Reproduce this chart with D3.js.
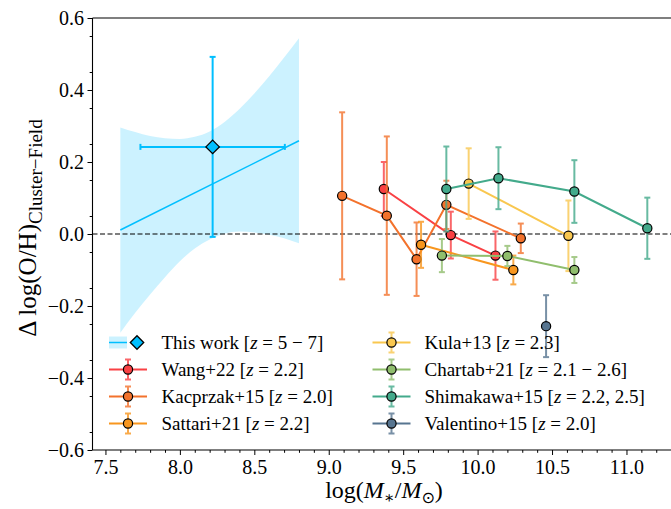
<!DOCTYPE html>
<html>
<head>
<meta charset="utf-8">
<script src="https://cdn.jsdelivr.net/npm/d3@7"></script>
<style>
  html, body { margin: 0; padding: 0; background: #fff; }
  svg text { font-family: "Liberation Serif", "DejaVu Serif", serif; fill: #000; }
</style>
</head>
<body>
<svg id="chart" width="671" height="509"></svg>
<script>
// ---------- data ----------
// this work: fitted relation, its confidence band and the binned point
const bandX     = [7.6, 7.7, 7.8, 7.9, 8.0, 8.1, 8.2, 8.3, 8.4, 8.5, 8.6, 8.7, 8.8];
const bandUpper = [0.296, 0.283, 0.272, 0.266, 0.264, 0.270, 0.285, 0.311, 0.347, 0.390, 0.438, 0.490, 0.544];
const bandLower = [-0.274, -0.219, -0.168, -0.120, -0.076, -0.040, -0.015, 0.001, 0.007, 0.004, -0.002, -0.012, -0.026];
const fitX = [7.6, 8.8];
const fitY = [0.011, 0.259];
const thisWorkX = [8.22];
const thisWorkY = [0.242];
const thisWorkXErr = [0.485];
const thisWorkYErr = [0.25];

// literature comparison samples
const wangX = [9.37, 9.82, 10.12];
const wangY = [0.125, -0.003, -0.060];
const wangErr = [0.075, 0.065, 0.067];

const kacprzakX = [9.09, 9.39, 9.59, 9.79, 10.29];
const kacprzakY = [0.106, 0.051, -0.070, 0.081, -0.012];
const kacprzakErr = [0.232, 0.220, 0.102, 0.067, 0.041];

const sattariX = [9.62, 10.24];
const sattariY = [-0.030, -0.100];
const sattariErr = [0.064, 0.040];

const kulaX = [9.94, 10.61];
const kulaY = [0.140, -0.005];
const kulaErr = [0.098, 0.098];

const chartabX = [9.76, 10.20, 10.65];
const chartabY = [-0.060, -0.061, -0.100];
const chartabErr = [0.046, 0.028, 0.036];

const shimakawaX = [9.79, 10.14, 10.65, 11.14];
const shimakawaY = [0.125, 0.155, 0.118, 0.016];
const shimakawaErr = [0.118, 0.086, 0.087, 0.085];

const valentinoX = [10.46];
const valentinoY = [-0.256];
const valentinoErr = [0.086];

const seriesNames = ["Wang+22", "Kacprzak+15", "Sattari+21", "Kula+13", "Chartab+21", "Shimakawa+15", "Valentino+15"];
const seriesRedshifts = ["2.2", "2.0", "2.2", "2.3", "2.1 − 2.6", "2.2, 2.5", "2.0"];
const seriesColors = ["#f94144", "#f3722c", "#f8961e", "#f9c74f", "#90be6d", "#43aa8b", "#577590"];
const thisWorkLabel = "This work";
const thisWorkRedshift = "5 − 7";
const thisWorkColor = "#00bfff";

const xTicks = [7.5, 8.0, 8.5, 9.0, 9.5, 10.0, 10.5, 11.0];
const yTicks = [-0.6, -0.4, -0.2, 0.0, 0.2, 0.4, 0.6];

const seriesData = [
  [wangX, wangY, wangErr],
  [kacprzakX, kacprzakY, kacprzakErr],
  [sattariX, sattariY, sattariErr],
  [kulaX, kulaY, kulaErr],
  [chartabX, chartabY, chartabErr],
  [shimakawaX, shimakawaY, shimakawaErr],
  [valentinoX, valentinoY, valentinoErr]
].map(([xs, ys, es], i) => ({
  name: seriesNames[i], z: seriesRedshifts[i], color: seriesColors[i],
  points: xs.map((x, j) => ({ x, y: ys[j], e: es[j] }))
}));

// ---------- layout ----------
const W = 671, H = 509;
const plotLeft = 92.5, plotTop = 18, plotBottom = 450;
const svg = d3.select("#chart");
svg.append("rect").attr("width", W).attr("height", H).attr("fill", "#fff");

const x = d3.scaleLinear().domain([7.413, 11.5]).range([plotLeft, 700.9]);
const y = d3.scaleLinear().domain([-0.6, 0.6]).range([plotBottom, plotTop]);

const plot = svg.append("g");

// confidence band of the fit
const band = bandX.map((bx, i) => ({ x: bx, lo: bandLower[i], hi: bandUpper[i] }));
plot.append("path")
  .datum(band)
  .attr("fill", thisWorkColor)
  .attr("fill-opacity", 0.2)
  .attr("d", d3.area().x(d => x(d.x)).y0(d => y(d.lo)).y1(d => y(d.hi)).curve(d3.curveMonotoneX));

// fitted relation
plot.append("path")
  .datum(fitX.map((fx, i) => ({ x: fx, y: fitY[i] })))
  .attr("fill", "none")
  .attr("stroke", thisWorkColor)
  .attr("stroke-width", 1.5)
  .attr("d", d3.line().x(d => x(d.x)).y(d => y(d.y)));

// zero-offset reference line
plot.append("line")
  .attr("x1", plotLeft).attr("x2", W + 10)
  .attr("y1", y(0)).attr("y2", y(0))
  .attr("stroke", "#000").attr("stroke-width", 1.2)
  .attr("stroke-dasharray", "5,2.5");

const CAP = 3;
function vErr(g, cx, v, e, color, width, opacity) {
  const y1 = y(v + e), y2 = y(v - e);
  const eg = g.append("g").attr("stroke", color).attr("stroke-width", width).attr("opacity", opacity);
  eg.append("line").attr("x1", cx).attr("x2", cx).attr("y1", y1).attr("y2", y2);
  eg.append("line").attr("x1", cx - CAP).attr("x2", cx + CAP).attr("y1", y1).attr("y2", y1);
  eg.append("line").attr("x1", cx - CAP).attr("x2", cx + CAP).attr("y1", y2).attr("y2", y2);
}

// literature samples: connecting line, error bars, markers
seriesData.forEach(s => {
  const g = plot.append("g");
  if (s.points.length > 1) {
    g.append("path")
      .datum(s.points)
      .attr("fill", "none")
      .attr("stroke", s.color)
      .attr("stroke-width", 2)
      .attr("d", d3.line().x(d => x(d.x)).y(d => y(d.y)));
  }
  s.points.forEach(p => vErr(g, x(p.x), p.y, p.e, s.color, 2, 0.8));
  g.selectAll("circle").data(s.points).join("circle")
    .attr("cx", d => x(d.x)).attr("cy", d => y(d.y)).attr("r", 4.6)
    .attr("fill", s.color).attr("stroke", "#000").attr("stroke-width", 1.2);
});

// this work: binned point with x and y errors
const diamond = d3.symbol().type(d3.symbolDiamond2).size(115)();
thisWorkX.forEach((tx, i) => {
  const g = plot.append("g");
  const cx = x(tx), cy = y(thisWorkY[i]);
  vErr(g, cx, thisWorkY[i], thisWorkYErr[i], thisWorkColor, 2, 1);
  const xl = x(tx - thisWorkXErr[i]), xr = x(tx + thisWorkXErr[i]);
  const hg = g.append("g").attr("stroke", thisWorkColor).attr("stroke-width", 2);
  hg.append("line").attr("x1", xl).attr("x2", xr).attr("y1", cy).attr("y2", cy);
  hg.append("line").attr("x1", xl).attr("x2", xl).attr("y1", cy - CAP).attr("y2", cy + CAP);
  hg.append("line").attr("x1", xr).attr("x2", xr).attr("y1", cy - CAP).attr("y2", cy + CAP);
  g.append("path")
    .attr("d", diamond)
    .attr("transform", `translate(${cx},${cy})`)
    .attr("fill", thisWorkColor).attr("stroke", "#000").attr("stroke-width", 1.3);
});

// ---------- axes ----------
const fmt = d3.format(".1f");
const xAxis = svg.append("g").attr("transform", `translate(0,${plotBottom})`)
  .call(d3.axisBottom(x).tickValues(xTicks).tickFormat(fmt).tickSize(5).tickPadding(5));
svg.append("g").attr("transform", `translate(0,${plotBottom})`)
  .call(d3.axisBottom(x).tickValues(d3.range(75, 116).map(v => v / 10).filter(v => !xTicks.includes(v)))
    .tickFormat("").tickSize(2.8))
  .select(".domain").remove();

const yAxis = svg.append("g").attr("transform", `translate(${plotLeft},0)`)
  .call(d3.axisLeft(y).tickValues(yTicks).tickFormat(fmt).tickSize(5).tickPadding(3.5));
svg.append("g").attr("transform", `translate(${plotLeft},0)`)
  .call(d3.axisLeft(y).tickValues(d3.range(-12, 13).map(v => v * 0.05).filter(v => Math.abs(Math.round(v * 10) - v * 10) > 0.01))
    .tickFormat("").tickSize(2.8))
  .select(".domain").remove();

svg.selectAll(".domain").attr("stroke", "#000").attr("stroke-width", 1.1);
svg.selectAll(".tick line").attr("stroke", "#000").attr("stroke-width", 1);
[xAxis, yAxis].forEach(a => a.selectAll("text").attr("font-size", 20).attr("fill", "#000"));
xAxis.select(".domain").attr("d", `M${plotLeft},0H${W + 10}`);
yAxis.select(".domain").attr("d", `M0,${plotTop}V${plotBottom}`);
svg.append("line").attr("x1", plotLeft).attr("x2", W + 10).attr("y1", plotTop).attr("y2", plotTop)
  .attr("stroke", "#000").attr("stroke-width", 1.1);

// axis titles
const xt = svg.append("text").attr("x", 384).attr("y", 498).attr("text-anchor", "middle").attr("font-size", 24);
xt.append("tspan").text("log(");
xt.append("tspan").attr("font-style", "italic").text("M");
xt.append("tspan").attr("font-size", 16).attr("dy", 5).text("∗");
xt.append("tspan").attr("dy", -5).text("/");
xt.append("tspan").attr("font-style", "italic").text("M");
xt.append("tspan").attr("font-size", 16).attr("dy", 5).style("font-family", "DejaVu Sans").text("⊙");
xt.append("tspan").attr("dy", -5).text(")");

const yt = svg.append("text").attr("transform", "translate(36,228) rotate(-90)")
  .attr("text-anchor", "middle").attr("font-size", 25);
yt.append("tspan").text("Δ log(O/H)");
yt.append("tspan").attr("font-size", 19).attr("dy", 6).text("Cluster−Field");

// ---------- legend ----------
const legendRows = [342.5, 369.5, 396.5, 423.5];
const legendCols = [{ x0: 109, x1: 147, mx: 128, tx: 161.5 }, { x0: 372.5, x1: 410.5, mx: 391.5, tx: 424.5 }];
const lg = svg.append("g");

function legendText(tx, ty, name, z) {
  const t = lg.append("text").attr("x", tx).attr("y", ty + 6.5).attr("font-size", 19);
  t.append("tspan").text(name + " [");
  t.append("tspan").attr("font-style", "italic").text("z");
  t.append("tspan").text(" = " + z + "]");
}

// entry 0: this work (band + line, then diamond)
{
  const c = legendCols[0], ry = legendRows[0];
  lg.append("rect").attr("x", c.x0).attr("y", ry - 6).attr("width", 18).attr("height", 12)
    .attr("fill", thisWorkColor).attr("fill-opacity", 0.2);
  lg.append("line").attr("x1", c.x0).attr("x2", c.x0 + 18).attr("y1", ry).attr("y2", ry)
    .attr("stroke", thisWorkColor).attr("stroke-width", 1.5);
  lg.append("path")
    .attr("d", diamond)
    .attr("transform", `translate(${c.x0 + 28},${ry})`)
    .attr("fill", thisWorkColor).attr("stroke", "#000").attr("stroke-width", 1.3);
  legendText(c.tx, ry, thisWorkLabel, thisWorkRedshift);
}

seriesData.forEach((s, i) => {
  const slot = i + 1;
  const c = legendCols[Math.floor(slot / 4)], ry = legendRows[slot % 4];
  lg.append("line").attr("x1", c.x0).attr("x2", c.x1).attr("y1", ry).attr("y2", ry)
    .attr("stroke", s.color).attr("stroke-width", 2);
  const eg = lg.append("g").attr("stroke", s.color).attr("stroke-width", 2).attr("opacity", 0.8);
  eg.append("line").attr("x1", c.mx).attr("x2", c.mx).attr("y1", ry - 10).attr("y2", ry + 10);
  eg.append("line").attr("x1", c.mx - CAP).attr("x2", c.mx + CAP).attr("y1", ry - 10).attr("y2", ry - 10);
  eg.append("line").attr("x1", c.mx - CAP).attr("x2", c.mx + CAP).attr("y1", ry + 10).attr("y2", ry + 10);
  lg.append("circle").attr("cx", c.mx).attr("cy", ry).attr("r", 4.6)
    .attr("fill", s.color).attr("stroke", "#000").attr("stroke-width", 1.2);
  legendText(c.tx, ry, s.name, s.z);
});
</script>
</body>
</html>
